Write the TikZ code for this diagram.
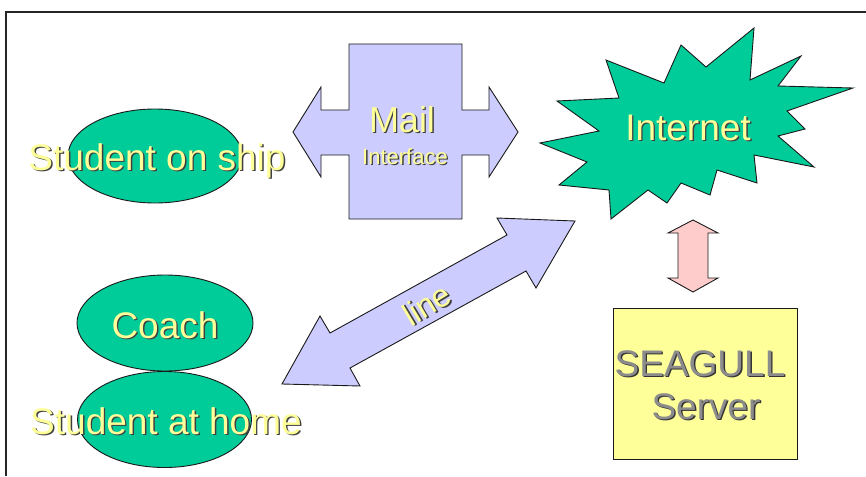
\documentclass[tikz,border=0pt]{standalone}
\usepackage{fontspec}
\setmainfont{Liberation Sans}
\usetikzlibrary{shapes.geometric}

\definecolor{blobgreen}{HTML}{00CC99}
\definecolor{lilac}{HTML}{CCCCFF}
\definecolor{rosepink}{HTML}{FFCCCC}
\definecolor{paleyellow}{HTML}{FFFF99}
\definecolor{textyellow}{HTML}{FFFF99}
\definecolor{textgray}{HTML}{8C8C8C}
\definecolor{outline}{HTML}{1A1A1A}

% text with a small drop shadow: #1 shadow colour, #2 face colour, #3 text
\newcommand{\shtxt}[3]{\leavevmode\rlap{\kern1.4pt\raisebox{-1.4pt}{\color{#1}#3}}{\color{#2}#3}}

\tikzset{
  shapeline/.style={draw=outline, line width=0.9pt, line join=miter},
  blob/.style={ellipse, shapeline, fill=blobgreen, inner sep=0pt},
  lbl/.style={inner sep=0pt, anchor=base},
  big/.style={font=\fontsize{37}{44}\selectfont},
}

\begin{document}
\begin{tikzpicture}[x=1pt, y=-1pt]
\useasboundingbox (0,0) rectangle (866,476);

% frame
\draw[black!85, line width=2pt] (6,476) -- (6,12) -- (866,12);

% ellipses
\node[blob, minimum width=174pt, minimum height=94pt] (ship) at (155,156) {};
\node[blob, minimum width=176pt, minimum height=96pt] (coach) at (165,323) {};
\node[blob, minimum width=174pt, minimum height=96pt] (home) at (164.5,419.5) {};

% mail interface: box with a double arrow through it
\draw[shapeline, fill=lilac]
  (349,44) -- (462,44) -- (462,110) -- (489,110) -- (489,87) -- (518,132)
  -- (489,177) -- (489,155) -- (462,155) -- (462,219) -- (349,219)
  -- (349,155) -- (321,155) -- (321,177) -- (293,132) -- (321,87)
  -- (321,110) -- (349,110) -- cycle;

% internet starburst
\draw[shapeline, fill=blobgreen]
  (754,28) -- (750,80) -- (801,56) -- (778,86) -- (853,88) -- (787,111)
  -- (805,129) -- (778,136) -- (814,167) -- (754,155) -- (757,183)
  -- (717,170) -- (710,195) -- (681,183) -- (667,203) -- (648,190)
  -- (611,219) -- (609,190) -- (559,185) -- (587,162) -- (540,143)
  -- (599,131) -- (557,101) -- (619,98) -- (606,60) -- (664,83)
  -- (681,45) -- (706,67) -- cycle;

% line: diagonal double arrow
\draw[shapeline, fill=lilac]
  (575,221) -- (536,288) -- (526,271) -- (350,368) -- (360,386)
  -- (282,384) -- (320,316) -- (330,333) -- (507,235) -- (497,218) -- cycle;

% internet <-> server double arrow
\draw[shapeline, fill=rosepink]
  (693,220) -- (718,233) -- (708,233) -- (708,278) -- (718,278)
  -- (693,292) -- (668,278) -- (678,278) -- (678,233) -- (668,233) -- cycle;

% server box
\draw[shapeline, fill=paleyellow] (613,308) rectangle (797,459);

% labels
\node[lbl, big] (shipT) at (157,170) {\shtxt{black!75}{textyellow}{Student on ship}};
\node[lbl, font=\fontsize{36}{42}\selectfont] (mailT) at (402,132) {\shtxt{black!75}{textyellow}{Mail}};
\node[lbl, font=\fontsize{22}{26}\selectfont] (ifaceT) at (405,164) {\shtxt{black!75}{textyellow}{Interface}};
\node[lbl, big] (netT) at (688,140) {\shtxt{black!75}{textyellow}{Internet}};
\node[inner sep=0pt, rotate=31, font=\fontsize{32}{38}\selectfont] (lineT) at (427,305) {\shtxt{black!75}{textyellow}{line}};
\node[lbl, big] (coachT) at (165,338) {\shtxt{black!75}{textyellow}{Coach}};
\node[lbl, big] (homeT) at (166,434) {\shtxt{black!75}{textyellow}{Student at home}};
\node[lbl, big] (seaT) at (700,376) {\shtxt{black!80}{textgray}{SEAGULL}};
\node[lbl, big] (srvT) at (706,419) {\shtxt{black!80}{textgray}{Server}};
\end{tikzpicture}
\end{document}
